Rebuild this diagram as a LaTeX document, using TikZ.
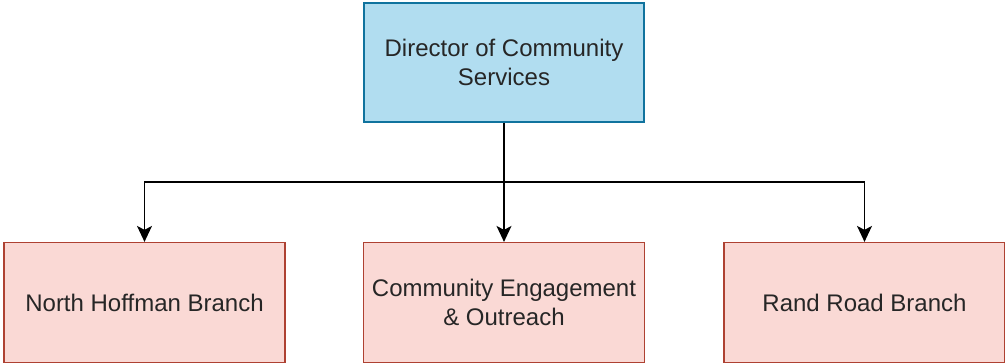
\documentclass[tikz,border=0pt]{standalone}
\usepackage{fontspec}
\setmainfont{Liberation Sans}
\usetikzlibrary{arrows.meta}

\definecolor{headfill}{HTML}{B1DDF0}
\definecolor{headline}{HTML}{10739E}
\definecolor{unitfill}{HTML}{FAD9D5}
\definecolor{unitline}{HTML}{AE4132}

\begin{document}
\begin{tikzpicture}[x=1pt, y=-1pt,
    headbox/.style={draw=headline, fill=headfill, line width=1.2pt,
      minimum width=280pt, minimum height=119pt, align=center,
      text=black!85, font=\fontsize{24}{29}\selectfont},
    unitbox/.style={draw=unitline, fill=unitfill, line width=1.2pt,
      minimum width=281pt, minimum height=120pt, align=center,
      text=black!85, font=\fontsize{24}{29}\selectfont},
    link/.style={line width=1.3pt, -{Stealth[length=16pt, width=15pt, inset=4pt]}}]
  \useasboundingbox (0,0) rectangle (1005,364);

  % Director
  \node[headbox] (director) at (504,62.5) {Director of Community\\Services};

  % Branches
  \node[unitbox] (north)    at (144.5,302.5) {North Hoffman Branch};
  \node[unitbox] (outreach) at (504,302.5)   {Community Engagement\\\& Outreach};
  \node[unitbox] (rand)     at (864.5,302.5) {Rand Road Branch};

  % Connectors
  \coordinate (split) at (504,182);
  \draw[line width=1.3pt] (director.south) -- (split);
  \draw[link] (split) -| (north.north);
  \draw[link] (split) -- (outreach.north);
  \draw[link] (split) -| (rand.north);
\end{tikzpicture}
\end{document}
